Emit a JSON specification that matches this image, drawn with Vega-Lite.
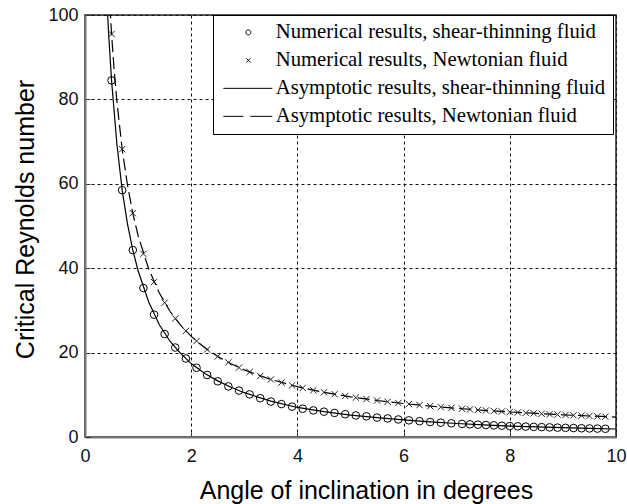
{
  "$schema": "https://vega.github.io/schema/vega-lite/v6.json",
  "width": 531,
  "height": 422,
  "autosize": {"type": "none"},
  "padding": {"left": 85, "top": 15, "right": 11, "bottom": 67},
  "background": "white",
  "datasets": {
    "numST": [
      {"x": 0.5, "y": 84.5}, {"x": 0.7, "y": 58.5}, {"x": 0.9, "y": 44.3}, {"x": 1.1, "y": 35.3},
      {"x": 1.3, "y": 29.0}, {"x": 1.5, "y": 24.4}, {"x": 1.7, "y": 21.2}, {"x": 1.9, "y": 18.6},
      {"x": 2.1, "y": 16.4}, {"x": 2.3, "y": 14.7}, {"x": 2.5, "y": 13.2}, {"x": 2.7, "y": 12.0},
      {"x": 2.9, "y": 11.0}, {"x": 3.1, "y": 10.1}, {"x": 3.3, "y": 9.2}, {"x": 3.5, "y": 8.4},
      {"x": 3.7, "y": 7.8}, {"x": 3.9, "y": 7.2}, {"x": 4.1, "y": 6.7}, {"x": 4.3, "y": 6.3},
      {"x": 4.5, "y": 6.0}, {"x": 4.7, "y": 5.7}, {"x": 4.9, "y": 5.4}, {"x": 5.1, "y": 5.1},
      {"x": 5.3, "y": 4.9}, {"x": 5.5, "y": 4.6}, {"x": 5.7, "y": 4.4}, {"x": 5.9, "y": 4.15},
      {"x": 6.1, "y": 3.95}, {"x": 6.3, "y": 3.75}, {"x": 6.5, "y": 3.55}, {"x": 6.7, "y": 3.4},
      {"x": 6.9, "y": 3.25}, {"x": 7.1, "y": 3.1}, {"x": 7.25, "y": 3.0}, {"x": 7.4, "y": 2.92},
      {"x": 7.55, "y": 2.84}, {"x": 7.7, "y": 2.76}, {"x": 7.85, "y": 2.68}, {"x": 8.0, "y": 2.6},
      {"x": 8.15, "y": 2.53}, {"x": 8.3, "y": 2.46}, {"x": 8.45, "y": 2.4}, {"x": 8.6, "y": 2.34},
      {"x": 8.75, "y": 2.28}, {"x": 8.9, "y": 2.22}, {"x": 9.05, "y": 2.17}, {"x": 9.2, "y": 2.12},
      {"x": 9.35, "y": 2.07}, {"x": 9.5, "y": 2.03}, {"x": 9.65, "y": 1.99}, {"x": 9.8, "y": 1.95}
    ],
    "numNT": [
      {"x": 0.5, "y": 95.49}, {"x": 0.7, "y": 68.21}, {"x": 0.9, "y": 53.05}, {"x": 1.1, "y": 43.4},
      {"x": 1.3, "y": 36.72}, {"x": 1.5, "y": 31.82}, {"x": 1.7, "y": 28.08}, {"x": 1.9, "y": 25.12},
      {"x": 2.1, "y": 22.73}, {"x": 2.3, "y": 20.75}, {"x": 2.5, "y": 19.09}, {"x": 2.7, "y": 17.67},
      {"x": 2.9, "y": 16.45}, {"x": 3.1, "y": 15.39}, {"x": 3.3, "y": 14.45}, {"x": 3.5, "y": 13.63},
      {"x": 3.7, "y": 12.89}, {"x": 3.9, "y": 12.22}, {"x": 4.1, "y": 11.63}, {"x": 4.3, "y": 11.08},
      {"x": 4.5, "y": 10.59}, {"x": 4.7, "y": 10.14}, {"x": 4.9, "y": 9.72}, {"x": 5.1, "y": 9.34},
      {"x": 5.3, "y": 8.98}, {"x": 5.5, "y": 8.65}, {"x": 5.7, "y": 8.35}, {"x": 5.9, "y": 8.06},
      {"x": 6.1, "y": 7.8}, {"x": 6.3, "y": 7.55}, {"x": 6.5, "y": 7.31}, {"x": 6.7, "y": 7.09},
      {"x": 6.9, "y": 6.89}, {"x": 7.1, "y": 6.69}, {"x": 7.25, "y": 6.55}, {"x": 7.4, "y": 6.42},
      {"x": 7.55, "y": 6.29}, {"x": 7.7, "y": 6.16}, {"x": 7.85, "y": 6.04}, {"x": 8.0, "y": 5.93},
      {"x": 8.15, "y": 5.82}, {"x": 8.3, "y": 5.71}, {"x": 8.45, "y": 5.61}, {"x": 8.6, "y": 5.51},
      {"x": 8.75, "y": 5.41}, {"x": 8.9, "y": 5.32}, {"x": 9.05, "y": 5.23}, {"x": 9.2, "y": 5.15},
      {"x": 9.35, "y": 5.06}, {"x": 9.5, "y": 4.98}, {"x": 9.65, "y": 4.9}, {"x": 9.8, "y": 4.82}
    ],
    "asymST": [
      {"x": 0.4, "y": 106}, {"x": 0.45, "y": 94.5}, {"x": 0.5, "y": 84.5}, {"x": 0.6, "y": 69.5},
      {"x": 0.7, "y": 58.5}, {"x": 0.8, "y": 50.5}, {"x": 0.9, "y": 44.3}, {"x": 1.0, "y": 39.4},
      {"x": 1.2, "y": 32.0}, {"x": 1.4, "y": 26.6}, {"x": 1.6, "y": 22.7}, {"x": 1.8, "y": 19.8},
      {"x": 2.0, "y": 17.4}, {"x": 2.25, "y": 15.1}, {"x": 2.5, "y": 13.3}, {"x": 2.75, "y": 11.8},
      {"x": 3.0, "y": 10.5}, {"x": 3.5, "y": 8.5}, {"x": 4.0, "y": 7.0}, {"x": 4.5, "y": 6.0},
      {"x": 5.0, "y": 5.2}, {"x": 5.5, "y": 4.6}, {"x": 6.0, "y": 4.05}, {"x": 6.5, "y": 3.6},
      {"x": 7.0, "y": 3.2}, {"x": 7.5, "y": 2.87}, {"x": 8.0, "y": 2.6}, {"x": 8.5, "y": 2.38},
      {"x": 9.0, "y": 2.2}, {"x": 9.5, "y": 2.03}, {"x": 10.0, "y": 1.9}
    ],
    "asymNT": [
      {"x": 0.45, "y": 106.1}, {"x": 0.5, "y": 95.5}, {"x": 0.55, "y": 86.8}, {"x": 0.6, "y": 79.6},
      {"x": 0.7, "y": 68.2}, {"x": 0.8, "y": 59.7}, {"x": 0.9, "y": 53.05}, {"x": 1.0, "y": 47.7},
      {"x": 1.2, "y": 39.8}, {"x": 1.4, "y": 34.1}, {"x": 1.6, "y": 29.8}, {"x": 1.8, "y": 26.5},
      {"x": 2.0, "y": 23.85}, {"x": 2.25, "y": 21.2}, {"x": 2.5, "y": 19.09}, {"x": 2.75, "y": 17.35},
      {"x": 3.0, "y": 15.9}, {"x": 3.5, "y": 13.63}, {"x": 4.0, "y": 11.92}, {"x": 4.5, "y": 10.59},
      {"x": 5.0, "y": 9.53}, {"x": 5.5, "y": 8.65}, {"x": 6.0, "y": 7.93}, {"x": 6.5, "y": 7.31},
      {"x": 7.0, "y": 6.79}, {"x": 7.5, "y": 6.33}, {"x": 8.0, "y": 5.93}, {"x": 8.5, "y": 5.58},
      {"x": 9.0, "y": 5.26}, {"x": 9.5, "y": 4.98}, {"x": 10.0, "y": 4.73}
    ],
    "legendKeys": [
      {"series": "Numerical results, shear-thinning fluid", "x": null, "y": null},
      {"series": "Numerical results, Newtonian fluid", "x": null, "y": null},
      {"series": "Asymptotic results, shear-thinning fluid", "x": null, "y": null},
      {"series": "Asymptotic results, Newtonian fluid", "x": null, "y": null}
    ]
  },
  "encoding": {
    "x": {
      "field": "x", "type": "quantitative",
      "scale": {"domain": [0, 10], "nice": false, "zero": false},
      "axis": {
        "title": "Angle of inclination in degrees",
        "values": [0, 2, 4, 6, 8, 10],
        "titleX": 281, "titleY": 61, "titleBaseline": "alphabetic",
        "labelPadding": 15
      }
    },
    "y": {
      "field": "y", "type": "quantitative",
      "scale": {"domain": [0, 100], "nice": false, "zero": false},
      "axis": {
        "title": "Critical Reynolds number",
        "values": [0, 20, 40, 60, 80, 100],
        "titleX": -52, "titleY": 204, "titleAngle": -90, "titleBaseline": "alphabetic", "titleAlign": "center",
        "labelPadding": 12
      }
    }
  },
  "layer": [
    {
      "data": {"name": "asymST"},
      "mark": {"type": "line", "clip": true, "color": "black", "strokeWidth": 1.2}
    },
    {
      "data": {"name": "asymNT"},
      "mark": {"type": "line", "clip": true, "color": "black", "strokeWidth": 1.2, "strokeDash": [12, 5]}
    },
    {
      "data": {"name": "numST"},
      "mark": {"type": "point", "shape": "circle", "size": 58, "filled": false, "stroke": "black", "strokeWidth": 1, "opacity": 1}
    },
    {
      "data": {"name": "numNT"},
      "mark": {"type": "point", "shape": "M-1,-1L1,1M-1,1L1,-1", "size": 40, "filled": false, "stroke": "#222", "strokeWidth": 1, "opacity": 1}
    },
    {
      "data": {"name": "legendKeys"},
      "mark": {"type": "point", "filled": false, "stroke": "black", "strokeWidth": 1, "opacity": 1},
      "encoding": {
        "shape": {
          "field": "series", "type": "nominal",
          "scale": {
            "domain": ["Numerical results, shear-thinning fluid", "Numerical results, Newtonian fluid", "Asymptotic results, shear-thinning fluid", "Asymptotic results, Newtonian fluid"],
            "range": ["M3.1,0A0.5,0.5,0,1,1,4.1,0A0.5,0.5,0,1,1,3.1,0", "M3.2,-0.4L4,0.4M3.2,0.4L4,-0.4", "M-1.4,0L8.4,0", "M-1.4,0L2.6,0M4,0L8.4,0"]
          },
          "legend": {
            "title": null,
            "orient": "none",
            "legendX": 128,
            "legendY": 0,
            "padding": 7,
            "strokeColor": "black",
            "fillColor": "white",
            "labelFont": "Liberation Serif",
            "labelFontSize": 20.7,
            "labelColor": "black",
            "labelOffset": 35,
            "labelLimit": 500,
            "labelExpr": "datum.label + '\u2002'",
            "symbolSize": 100,
            "symbolStrokeColor": "black",
            "symbolFillColor": "transparent",
            "symbolStrokeWidth": 1,
            "rowPadding": 6
          }
        }
      }
    }
  ],
  "config": {
    "view": {"stroke": "#222", "strokeWidth": 1.5},
    "axis": {
      "labelFont": "Liberation Sans",
      "labelFontSize": 18,
      "labelColor": "#111",
      "titleFont": "Liberation Sans",
      "titleFontSize": 25,
      "titleFontWeight": "normal",
      "titleColor": "black",
      "domainColor": "#777",
      "domainWidth": 2,
      "ticks": true,
      "tickSize": -5,
      "tickColor": "#333",
      "tickWidth": 1,
      "grid": true,
      "gridColor": "#111",
      "gridDash": [3, 3],
      "gridWidth": 1,
      "gridOpacity": 1,
      "labelFlush": false,
      "labelOverlap": false
    }
  }
}
